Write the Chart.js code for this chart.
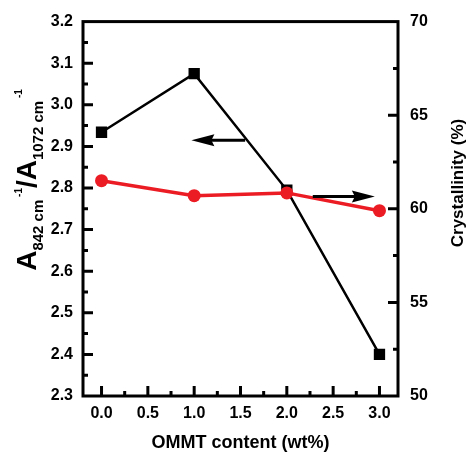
<!DOCTYPE html>
<html>
<head>
<meta charset="utf-8">
<script src="https://cdn.jsdelivr.net/npm/chart.js@4"></script>
<style>
  html, body { margin: 0; padding: 0; background: #fff; }
  #wrap { width: 473px; height: 454px; position: relative; }
</style>
</head>
<body>
<div id="wrap"><canvas id="myChart"></canvas></div>
<script>
// data
const ommtContent = [0, 1, 2, 3];
const absRatio = [2.934, 3.075, 2.795, 2.40];
const crystallinity = [61.5, 60.7, 60.85, 59.9];
const xTickValues = [0, 0.5, 1, 1.5, 2, 2.5, 3];
const leftTickValues = [2.3, 2.4, 2.5, 2.6, 2.7, 2.8, 2.9, 3.0, 3.1, 3.2];
const rightTickValues = [50, 55, 60, 65, 70];

const FONT = "'Liberation Sans', Arial, sans-serif";
const RED = "#ec1c24";

// arrows pointing to each axis (data coords)
const arrows = [
  { axis: "y", from: 1.55, to: 0.97, at: 2.915 },
  { axis: "y1", from: 2.28, to: 2.95, at: 60.66 },
];

const framePlugin = {
  id: "frame",
  afterDatasetsDraw(chart) {
    const c = chart.ctx;
    const sx = chart.scales.x;
    c.save();
    // arrows
    c.strokeStyle = "#000";
    c.fillStyle = "#000";
    c.lineWidth = 3;
    arrows.forEach((ar) => {
      const x0 = sx.getPixelForValue(ar.from);
      const x1 = sx.getPixelForValue(ar.to);
      const y = chart.scales[ar.axis].getPixelForValue(ar.at);
      const dir = Math.sign(x1 - x0);
      c.beginPath();
      c.moveTo(x0, y);
      c.lineTo(x1 - dir * 18, y);
      c.stroke();
      c.beginPath();
      c.moveTo(x1, y);
      c.lineTo(x1 - dir * 23, y - 6);
      c.lineTo(x1 - dir * 20, y);
      c.lineTo(x1 - dir * 23, y + 6);
      c.closePath();
      c.fill();
    });
    c.restore();
  },
  afterDraw(chart) {
    const c = chart.ctx;
    const a = chart.chartArea;
    const sx = chart.scales.x, sy = chart.scales.y, sy1 = chart.scales.y1;
    c.save();
    c.strokeStyle = "#000";
    c.lineWidth = 3;
    c.strokeRect(a.left, a.top, a.right - a.left, a.bottom - a.top);
    c.beginPath();
    // bottom ticks (inward)
    for (let v = 0; v <= 3.001; v += 0.25) {
      const px = sx.getPixelForValue(v);
      const len = Math.abs(v * 2 - Math.round(v * 2)) < 1e-6 ? 10 : 5;
      c.moveTo(px, a.bottom);
      c.lineTo(px, a.bottom - len);
    }
    // left ticks
    for (let i = 1; i < 18; i++) {
      const py = sy.getPixelForValue(2.3 + i * 0.05);
      const len = i % 2 === 0 ? 10 : 5;
      c.moveTo(a.left, py);
      c.lineTo(a.left + len, py);
    }
    // right ticks
    for (let i = 1; i < 8; i++) {
      const py = sy1.getPixelForValue(50 + i * 2.5);
      const len = i % 2 === 0 ? 10 : 5;
      c.moveTo(a.right, py);
      c.lineTo(a.right - len, py);
    }
    c.stroke();

    // axis titles
    c.fillStyle = "#000";
    c.font = "bold 18px " + FONT;
    c.textAlign = "center";
    c.textBaseline = "middle";
    c.fillText("OMMT content (wt%)", (a.left + a.right) / 2, 443);

    c.save();
    c.translate(458, 183);
    c.rotate(-Math.PI / 2);
    c.font = "bold 17px " + FONT;
    c.fillText("Crystallinity (%)", 0, 0);
    c.restore();

    // left title with sub/superscripts
    const parts = [
      { t: "A", f: "bold 28px ", dy: 0 },
      { t: "842 cm", f: "bold 15px ", dy: 7 },
      { t: " -1", f: "bold 10px ", dy: -14 },
      { t: "/A", f: "bold 28px ", dy: 0 },
      { t: "1072 cm", f: "bold 15px ", dy: 7 },
      { t: " -1", f: "bold 10px ", dy: -14 },
    ];
    let total = 0;
    parts.forEach((p) => {
      c.font = p.f + FONT;
      p.w = c.measureText(p.t).width;
      total += p.w;
    });
    c.save();
    c.translate(36, 180);
    c.rotate(-Math.PI / 2);
    c.textAlign = "left";
    c.textBaseline = "alphabetic";
    let x = -total / 2;
    parts.forEach((p) => {
      c.font = p.f + FONT;
      c.fillText(p.t, x, p.dy);
      x += p.w;
    });
    c.restore();
    c.restore();
  },
};

const tickFont = { family: FONT, size: 16, weight: "bold" };

new Chart(document.getElementById("myChart"), {
  type: "line",
  data: {
    labels: ommtContent,
    datasets: [
      {
        label: "Crystallinity",
        data: ommtContent.map((x, i) => ({ x: x, y: crystallinity[i] })),
        yAxisID: "y1",
        borderColor: RED,
        backgroundColor: RED,
        borderWidth: 3.5,
        pointStyle: "circle",
        pointRadius: 6.5,
        pointBorderWidth: 0,
        order: 0,
      },
      {
        label: "Ratio",
        data: ommtContent.map((x, i) => ({ x: x, y: absRatio[i] })),
        yAxisID: "y",
        borderColor: "#000",
        backgroundColor: "#000",
        borderWidth: 2.5,
        pointStyle: "rect",
        pointRadius: 8,
        pointBorderWidth: 0,
        order: 1,
      },
    ],
  },
  options: {
    responsive: true,
    maintainAspectRatio: false,
    animation: false,
    layout: { padding: { top: 20, left: 0, right: 0, bottom: 0 } },
    plugins: { legend: { display: false }, tooltip: { enabled: false } },
    scales: {
      x: {
        type: "linear",
        min: -0.2,
        max: 3.2,
        afterBuildTicks: (s) => { s.ticks = xTickValues.map((v) => ({ value: v })); },
        afterFit: (s) => { s.height = 58; },
        grid: { display: false, drawTicks: false },
        border: { display: false },
        ticks: {
          color: "#000",
          font: tickFont,
          padding: 8,
          maxRotation: 0,
          callback: (v) => Number(v).toFixed(1),
        },
      },
      y: {
        position: "left",
        min: 2.3,
        max: 3.2,
        afterBuildTicks: (s) => { s.ticks = leftTickValues.map((v) => ({ value: v })); },
        afterFit: (s) => { s.width = 83; },
        grid: { display: false, drawTicks: false },
        border: { display: false },
        ticks: {
          color: "#000",
          font: tickFont,
          padding: 10,
          callback: (v) => Number(v).toFixed(1),
        },
      },
      y1: {
        position: "right",
        min: 50,
        max: 70,
        afterBuildTicks: (s) => { s.ticks = rightTickValues.map((v) => ({ value: v })); },
        afterFit: (s) => { s.width = 75; },
        grid: { display: false, drawTicks: false },
        border: { display: false },
        ticks: { color: "#000", font: tickFont, padding: 12 },
      },
    },
  },
  plugins: [framePlugin],
});
</script>
</body>
</html>
